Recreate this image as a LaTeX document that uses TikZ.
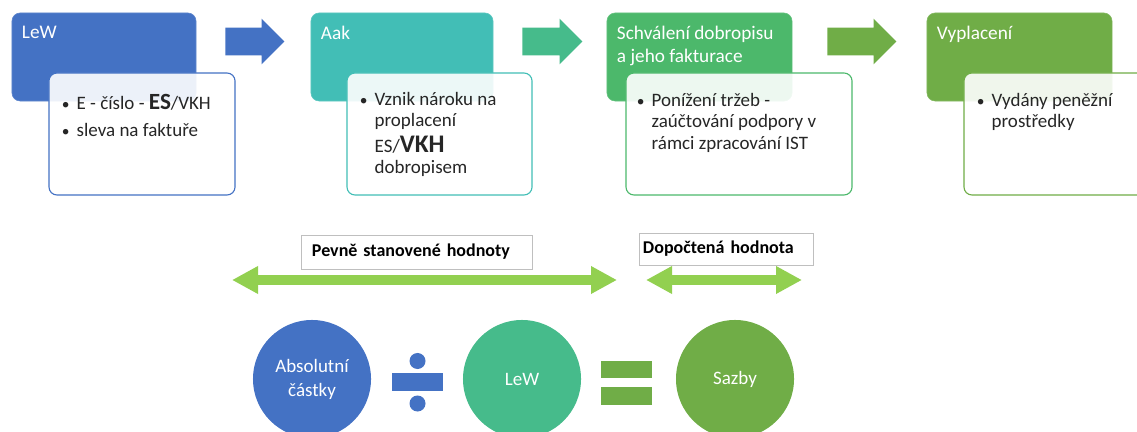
\documentclass[tikz,border=0pt]{standalone}
\usepackage{fontspec}
\setmainfont{Carlito}
\usetikzlibrary{shapes.arrows, arrows.meta, positioning}

\definecolor{StageBlue}{HTML}{4472C4}
\definecolor{StageTeal}{HTML}{42BEB6}
\definecolor{StageMint}{HTML}{46BB8B}
\definecolor{StageGreen}{HTML}{4CB86B}
\definecolor{StageOlive}{HTML}{70AD47}
\definecolor{SpanGreen}{HTML}{92D050}
\definecolor{NoteText}{HTML}{262626}

\newcommand{\dotmark}{\llap{{\fontsize{11}{11}\selectfont\textbullet}\hspace{5pt}}}

\begin{document}
\begin{tikzpicture}[
    x=0.025cm, y=-0.025cm,
    stage/.style={
        rounded corners=0.2cm,
        minimum height=2.2cm,
        inner sep=0pt,
        draw=#1!85!white,
        fill=#1
    },
    detail/.style={
        rounded corners=0.2cm,
        minimum height=3.05cm,
        minimum width=4.65cm,
        inner sep=0pt,
        draw=#1,
        line width=0.8pt,
        fill=white,
        fill opacity=0.9
    },
    stagetitle/.style={
        anchor=north west,
        inner sep=0pt,
        align=left,
        text=white,
        font=\fontsize{13.7}{16.5}\selectfont
    },
    bullets/.style={
        anchor=north west,
        inner sep=0pt,
        align=left,
        text=NoteText,
        font=\fontsize{13.5}{15}\selectfont
    },
    flow/.style={
        single arrow,
        single arrow head extend=0.225cm,
        minimum height=1.5cm,
        inner xsep=0pt,
        inner ysep=0.3375cm,
        anchor=tail,
        fill=#1
    },
    span/.style={
        line width=0.25cm,
        draw=SpanGreen,
        {Triangle[length=0.65cm, width=0.65cm]}-{Triangle[length=0.65cm, width=0.65cm]}
    },
    spanlabel/.style={
        draw=black!25,
        fill=white,
        align=left,
        inner ysep=0pt,
        text=black,
        font=\bfseries\fontsize{12.8}{15}\selectfont
    },
    term/.style={
        circle,
        minimum size=2.95cm,
        inner sep=0pt,
        fill=#1,
        text=white,
        align=center,
        font=\fontsize{13.5}{17}\selectfont
    },
    opbar/.style={
        minimum width=1.275cm,
        minimum height=0.44cm,
        inner sep=0pt,
        fill=#1
    },
    opdot/.style={
        circle,
        minimum size=0.4cm,
        inner sep=0pt,
        fill=#1
    }
]
\useasboundingbox (0,0) rectangle (1137,432);

% Stages
\node[stage=StageBlue, minimum width=4.6cm] (lew) at (104,57) {};
\node[stage=StageTeal, minimum width=4.55cm] (aak) at (402,57) {};
\node[stage=StageGreen, minimum width=4.625cm] (credit) at (699.5,57) {};
\node[stage=StageOlive, minimum width=4.625cm] (payout) at (1019.5,57) {};

\node[stagetitle] (lewtitle) at ([shift={(10,13)}]lew.north west) {LeW};
\node[stagetitle] (aaktitle) at ([shift={(10,13)}]aak.north west) {Aak};
\node[stagetitle] (credittitle) at ([shift={(10,13)}]credit.north west)
      {Schválení dobropisu\\a jeho fakturace};
\node[stagetitle] (payouttitle) at ([shift={(10,13)}]payout.north west) {Vyplacení};

% Arrows between stages
\node[flow=StageBlue, minimum height=1.475cm] (flow1) at (225,41.5) {};
\node[flow=StageMint] (flow2) at (522,41.5) {};
\node[flow=StageOlive, minimum height=1.725cm] (flow3) at (827,41.5) {};

% Detail boxes
\node[detail=StageBlue] (lewnote) at (142,134) {};
\node[detail=StageTeal, minimum width=4.625cm] (aaknote) at (439.5,134) {};
\node[detail=StageGreen, minimum width=5.65cm] (creditnote) at (739,134) {};
\node[detail=StageOlive] (payoutnote) at (1057,134) {};

\node[bullets] (lewtext) at ([shift={(28,22)}]lewnote.north west)
      {\dotmark E - číslo - {\bfseries\fontsize{16.5}{15}\selectfont ES}/VKH\\[4pt]
       \dotmark sleva na faktuře};
\node[bullets] (aaktext) at ([shift={(28,20)}]aaknote.north west)
      {\dotmark Vznik nároku na\\proplacení\\[3pt]
       ES/{\bfseries\fontsize{18}{15}\selectfont VKH}\\dobropisem};
\node[bullets] (credittext) at ([shift={(26,21)}]creditnote.north west)
      {\dotmark Ponížení tržeb -\\zaúčtování podpory v\\rámci zpracování IST};
\node[bullets] (payouttext) at ([shift={(28,21)}]payoutnote.north west)
      {\dotmark Vydány peněžní\\prostředky};

% Spans
\coordinate (fixedL) at (232,280);
\coordinate (fixedR) at (617,280);
\coordinate (derivedL) at (646,280);
\coordinate (derivedR) at (802,280);
\draw[span] (fixedL) -- (fixedR);
\draw[span] (derivedL) -- (derivedR);

\node[spanlabel, minimum height=0.85cm, text width=5.225cm, inner xsep=0.275cm] (fixed) at (416.5,252)
      {Pevně stanovené hodnoty};
\node[spanlabel, minimum height=0.8cm, text width=4.15cm, inner xsep=0.1cm] (derived) at (726,249)
      {Dopočtená hodnota};

% Formula
\node[term=StageBlue] (amounts) at (312,379) {Absolutní\\částky};
\node[term=StageMint] (rate) at (522,379) {LeW};
\node[term=StageOlive] (result) at (735,379) {Sazby};

\node[opbar=StageBlue] (divbar) at (417.5,382) {};
\node[opdot=StageBlue] (divtop) at (417.5,361) {};
\node[opdot=StageBlue] (divbottom) at (417.5,403.5) {};

\node[opbar=StageOlive] (eqtop) at (626.5,369.5) {};
\node[opbar=StageOlive] (eqbottom) at (626.5,396) {};

\end{tikzpicture}
\end{document}
